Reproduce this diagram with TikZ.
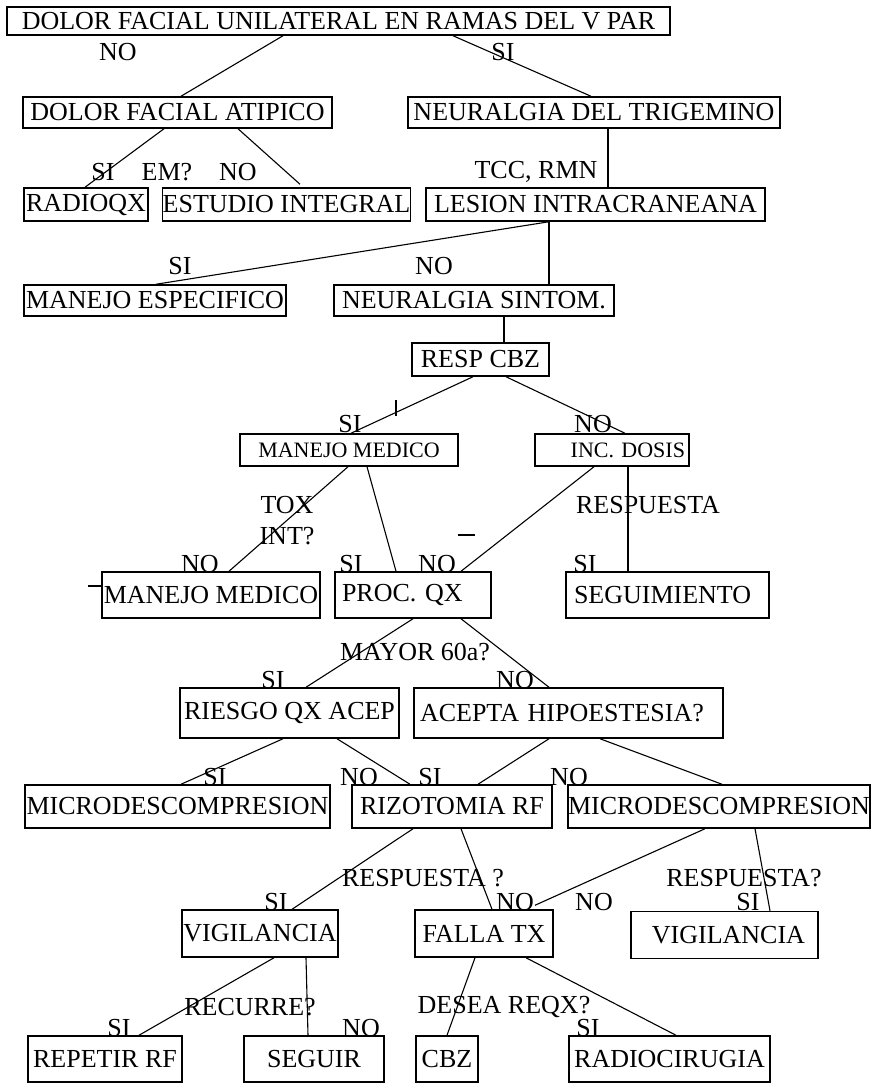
\documentclass[tikz,border=0pt]{standalone}
\usepackage{fontspec}
\setmainfont{Liberation Serif}
\usetikzlibrary{positioning, calc}

\begin{document}
\begin{tikzpicture}[
		x=1pt, y=-1pt,
		every node/.style = {font=\fontsize{26}{28}\selectfont},
		box/.style = {rectangle, draw, line width=1.5pt, inner sep=0pt},
		smallbox/.style = {box, font=\fontsize{22}{24}\selectfont},
		tag/.style = {inner sep=0pt},
		link/.style = {line width=1.1pt},
	]
	\useasboundingbox (0,0) rectangle (883,1089);

	\node[box, minimum width=663pt, minimum height=28pt] (DF) at (338.5,21) {DOLOR FACIAL UNILATERAL EN RAMAS DEL V PAR};
	\node[box, minimum width=309pt, minimum height=31pt] (DFA) at (177.5,112.5) {DOLOR FACIAL ATIPICO};
	\node[box, minimum width=372pt, minimum height=31pt] (NT) at (594,112.5) {NEURALGIA DEL TRIGEMINO};
	\node[box, minimum width=124pt, minimum height=33pt] (RQ) at (86,204.5) {RADIOQX};
	\node[box, minimum width=247pt, minimum height=33pt] (EI) at (286.5,204.5) {ESTUDIO INTEGRAL};
	\node[box, minimum width=339pt, minimum height=33pt] (LI) at (595.5,204.5) {LESION INTRACRANEANA};
	\node[box, minimum width=262pt, minimum height=31pt] (ME) at (155,300.5) {MANEJO ESPECIFICO};
	\node[box, minimum width=280pt, minimum height=31pt] (NS) at (474,300.5) {NEURALGIA SINTOM.};
	\node[box, minimum width=137pt, minimum height=33pt] (RC) at (480.5,359.5) {RESP CBZ};
	\node[smallbox, minimum width=218pt, minimum height=32pt] (MM) at (349,450) {MANEJO MEDICO};
	\node[smallbox, minimum height=32pt, inner xsep=4pt, text width=146pt, align=right] (ID) at (612,450) {INC. DOSIS};
	\node[box, minimum width=218pt, minimum height=46pt] (MMB) at (211,595) {MANEJO MEDICO};
	\node[box, minimum height=46pt, inner xsep=7pt, text width=142pt, align=left] (PQ) at (413,595) {PROC. QX};
	\node[box, minimum height=46pt, inner xsep=8pt, text width=187pt, align=left] (SG) at (667.5,595) {SEGUIMIENTO};
	\node[box, minimum width=219pt, minimum height=50pt] (RA) at (289.5,713) {RIESGO QX ACEP};
	\node[box, minimum height=50pt, inner xsep=6pt, text width=297pt, align=left] (AH) at (568.5,713) {ACEPTA HIPOESTESIA?};
	\node[box, minimum width=305pt, minimum height=43pt] (MDL) at (177.5,806.5) {MICRODESCOMPRESION};
	\node[box, minimum width=200pt, minimum height=43pt] (RF) at (452,806.5) {RIZOTOMIA RF};
	\node[box, minimum width=302pt, minimum height=43pt] (MDR) at (719,806.5) {MICRODESCOMPRESION};
	\node[box, minimum width=156pt, minimum height=47pt] (VGL) at (260,933.5) {VIGILANCIA};
	\node[box, minimum width=138pt, minimum height=47pt] (FT) at (484,933.5) {FALLA TX};
	\node[box, minimum height=47pt, inner xsep=13pt, text width=161pt, align=right] (VGR) at (724.5,935) {VIGILANCIA};
	\node[box, minimum width=154pt, minimum height=46pt] (RR) at (105,1059) {REPETIR RF};
	\node[box, minimum width=140pt, minimum height=46pt] (SE) at (314,1059) {SEGUIR};
	\node[box, minimum width=62pt, minimum height=46pt] (CB) at (447,1059) {CBZ};
	\node[box, minimum width=201pt, minimum height=46pt] (RCX) at (669.5,1059) {RADIOCIRUGIA};

	\node[tag] (t1) at (118,52) {NO};
	\node[tag] (t2) at (503,52) {SI};
	\node[tag] (t3) at (103,172) {SI};
	\node[tag] (t4) at (167,172) {EM?};
	\node[tag] (t5) at (238,172) {NO};
	\node[tag] (t6) at (536,172) {TCC, RMN};
	\node[tag] (t7) at (180,266) {SI};
	\node[tag] (t8) at (434,266) {NO};
	\node[tag] (t9) at (350,424) {SI};
	\node[tag] (t10) at (593,424) {NO};
	\node[tag] (t11) at (287,505) {TOX};
	\node[tag] (t12) at (287,536) {INT?};
	\node[tag] (t13) at (648,505) {RESPUESTA};
	\node[tag] (t14) at (200,564) {NO};
	\node[tag] (t15) at (351,564) {SI};
	\node[tag] (t16) at (437,564) {NO};
	\node[tag] (t17) at (585,564) {SI};
	\node[tag] (t18) at (415,652) {MAYOR 60a?};
	\node[tag] (t19) at (273,680) {SI};
	\node[tag] (t20) at (515,680) {NO};
	\node[tag] (t21) at (215,777) {SI};
	\node[tag] (t22) at (359,777) {NO};
	\node[tag] (t23) at (430,777) {SI};
	\node[tag] (t24) at (569,777) {NO};
	\node[tag] (t25) at (423,878) {RESPUESTA ?};
	\node[tag] (t26) at (744,878) {RESPUESTA?};
	\node[tag] (t27) at (276,902) {SI};
	\node[tag] (t28) at (515,902) {NO};
	\node[tag] (t29) at (594,902) {NO};
	\node[tag] (t30) at (748,902) {SI};
	\node[tag] (t31) at (250,1007) {RECURRE?};
	\node[tag] (t32) at (504,1007) {DESEA REQX?};
	\node[tag] (t33) at (119,1028) {SI};
	\node[tag] (t34) at (361,1028) {NO};
	\node[tag] (t35) at (588,1028) {SI};

	\draw[link] ([xshift=-55.5pt]DF.south) -- ([xshift=3.5pt]DFA.north);
	\draw[link] ([xshift=114.5pt]DF.south) -- ([xshift=-3pt]NT.north);
	\draw[link] ([xshift=-13.5pt]DFA.south) -- ([xshift=-1pt]RQ.north);
	\draw[link] ([xshift=60.5pt]DFA.south) -- ([xshift=13.5pt, yshift=3pt]EI.north);
	\draw[link] ([xshift=14pt]NT.south) -- ([xshift=12.5pt]LI.north);
	\draw[link] ([xshift=-46.5pt]LI.south) -- ([xshift=1pt]ME.north);
	\draw[link] ([xshift=-46.5pt]LI.south) -- ([xshift=75pt]NS.north);
	\draw[link] ([xshift=30pt]NS.south) -- ([xshift=23.5pt]RC.north);
	\draw[link] ([xshift=-7.5pt]RC.south) -- ([xshift=2pt]MM.north);
	\draw[link] ([xshift=25.5pt]RC.south) -- ([xshift=13pt]ID.north);
	\draw[link] ([xshift=-1pt]MM.south) -- ([xshift=18pt]MMB.north);
	\draw[link] ([xshift=18pt]MM.south) -- ([xshift=-17pt]PQ.north);
	\draw[link] ([xshift=-18pt]ID.south) -- ([xshift=48pt]PQ.north);
	\draw[link] ([xshift=16pt]ID.south) -- ([xshift=-39.5pt]SG.north);
	\draw[link] (PQ.south) -- ([xshift=16.5pt]RA.north);
	\draw[link] ([xshift=48pt]PQ.south) -- ([xshift=-19.5pt]AH.north);
	\draw[link] ([xshift=-6.5pt]RA.south) -- ([xshift=3.5pt]MDL.north);
	\draw[link] ([xshift=47.5pt]RA.south) -- ([xshift=-42pt]RF.north);
	\draw[link] ([xshift=-19.5pt]AH.south) -- ([xshift=26pt]RF.north);
	\draw[link] ([xshift=31.5pt]AH.south) -- ([xshift=3pt]MDR.north);
	\draw[link] ([xshift=-39pt]RF.south) -- ([xshift=32pt]VGL.north);
	\draw[link] ([xshift=9pt]RF.south) -- ([xshift=8pt]FT.north);
	\draw[link] ([xshift=-14pt]MDR.south) -- ([xshift=51pt, yshift=4pt]FT.north);
	\draw[link] ([xshift=36pt]MDR.south) -- ([xshift=45.5pt]VGR.north);
	\draw[link] ([xshift=14pt]VGL.south) -- ([xshift=34pt]RR.north);
	\draw[link] ([xshift=46pt]VGL.south) -- ([xshift=-6pt]SE.north);
	\draw[link] ([xshift=-9pt]FT.south) -- (CB.north);
	\draw[link] ([xshift=42pt]FT.south) -- ([xshift=6.5pt]RCX.north);

	\draw[link] (396,400) -- (396,416);
	\draw[link] (458,535) -- (475,535);
	\draw[link] (88,586) -- (103,586);

\end{tikzpicture}
\end{document}
